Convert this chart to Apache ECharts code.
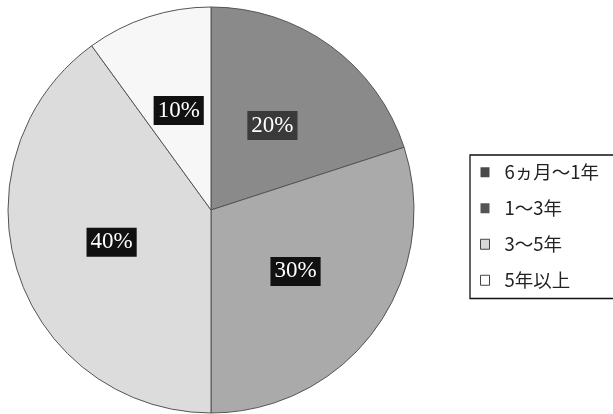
<!DOCTYPE html>
<html>
<head>
<meta charset="utf-8">
<script src="https://cdn.jsdelivr.net/npm/echarts@6/dist/echarts.min.js"></script>
<style>html,body{margin:0;padding:0;background:#fff}#c{width:613px;height:414px}</style>
</head>
<body>
<div id="c"></div>
<script>
const categories = ['6ヵ月～1年', '1～3年', '3～5年', '5年以上'];
const values = [20, 30, 40, 10];
const sliceColors = ['#8a8a8a', '#aaaaaa', '#dcdcdc', '#f7f7f7'];
const legendColors = ['#4a4a4a', '#555555', '#d8d8d8', '#ffffff'];

const chart = echarts.init(document.getElementById('c'), null, {renderer: 'canvas'});
chart.setOption({
  animation: false,
  backgroundColor: '#fff',
  legend: {
    orient: 'vertical',
    left: 470,
    top: 155,
    padding: [8, 60, 9, 10],
    itemGap: 17.5,
    itemWidth: 9,
    itemHeight: 10,
    borderColor: '#111',
    borderWidth: 1.3,
    textStyle: {fontFamily: 'Noto Sans CJK JP', fontSize: 18.5, lineHeight: 18, color: '#222', padding: [0, 0, 0, 10]},
    data: categories.map((n, i) => ({
      name: n,
      icon: 'rect',
      itemStyle: {color: legendColors[i], borderColor: '#444', borderWidth: i >= 2 ? 1 : 0}
    }))
  },
  series: [{
    type: 'pie',
    center: [211, 210],
    radius: [0, 203],
    startAngle: 90,
    clockwise: true,
    label: {
      show: true,
      position: 'inside',
      formatter: '{c}%',
      color: '#fff',
      fontFamily: 'Liberation Serif',
      fontSize: 23,
      backgroundColor: '#111',
      padding: [4, 4, 2, 4]
    },
    labelLine: {show: false},
    itemStyle: {borderColor: '#555', borderWidth: 1},
    emphasis: {disabled: true},
    data: categories.map((n, i) => ({
      name: n,
      value: values[i],
      itemStyle: {color: sliceColors[i]},
      label: i === 0 ? {backgroundColor: '#3a3a3a'} : {}
    }))
  }]
});
</script>
</body>
</html>
